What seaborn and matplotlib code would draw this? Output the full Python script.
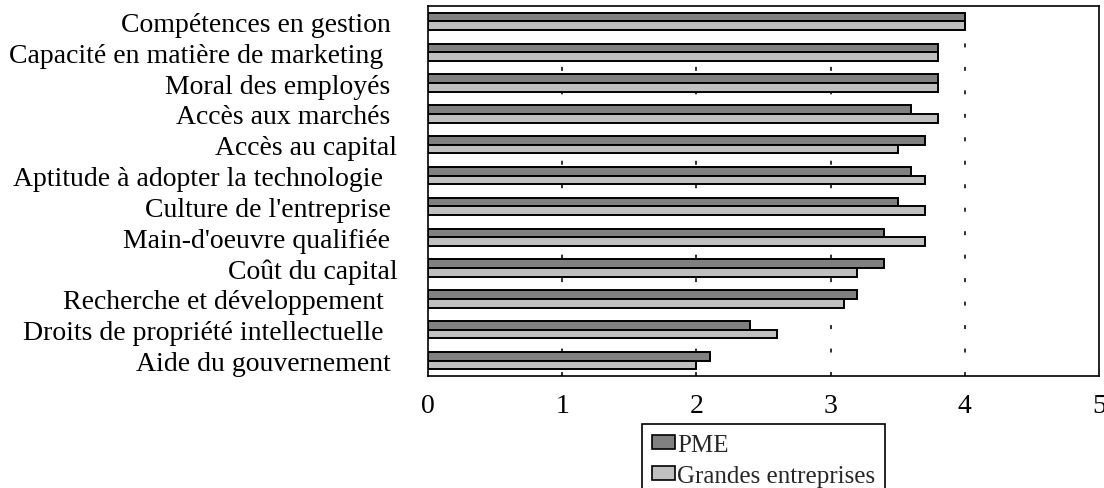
import matplotlib
matplotlib.use("Agg")
import matplotlib.pyplot as plt
import seaborn as sns
import pandas as pd
from matplotlib.patches import Patch

# Factors (top to bottom) and mean ratings for each firm size
factors = [
    "Compétences en gestion ",
    "Capacité en matière de marketing  ",
    "Moral des employés ",
    "Accès aux marchés ",
    "Accès au capital",
    "Aptitude à adopter la technologie  ",
    "Culture de l'entreprise ",
    "Main-d'oeuvre qualifiée ",
    "Coût du capital",
    "Recherche et développement  ",
    "Droits de propriété intellectuelle  ",
    "Aide du gouvernement ",
]
pme = [4.0, 3.8, 3.8, 3.6, 3.7, 3.6, 3.5, 3.4, 3.4, 3.2, 2.4, 2.1]
grandes = [4.0, 3.8, 3.8, 3.8, 3.5, 3.7, 3.7, 3.7, 3.2, 3.1, 2.6, 2.0]
series_names = ["PME", "Grandes entreprises"]
series_colors = ["#808080", "#C0C0C0"]
x_ticks = [0, 1, 2, 3, 4, 5]

df = pd.DataFrame({
    "facteur": factors * 2,
    "note": pme + grandes,
    "groupe": [series_names[0]] * len(factors) + [series_names[1]] * len(factors),
})

sns.set_theme(style="white")
plt.rcParams["font.family"] = ["Liberation Serif", "DejaVu Serif"]

fig = plt.figure(figsize=(11.04, 4.89), dpi=100)
ax = fig.add_axes([428 / 1104, 1 - 377 / 489, (1099 - 428) / 1104, (377 - 7) / 489])

sns.barplot(
    data=df, y="facteur", x="note", hue="groupe", order=factors,
    hue_order=series_names, palette=series_colors, orient="h",
    width=0.56, edgecolor="black", linewidth=1.4, saturation=1,
    legend=False, ax=ax, zorder=3,
)

ax.set_xlim(0, 5)
ax.set_ylim(len(factors) - 0.5, -0.5)
ax.set_xticks(x_ticks)
ax.set_xticklabels([str(t) for t in x_ticks])
ax.set_xlabel("")
ax.set_ylabel("")
ax.tick_params(axis="both", length=0, labelsize=20, colors="black")
ax.tick_params(axis="y", pad=22)
ax.tick_params(axis="x", pad=12)

for spine in ax.spines.values():
    spine.set_visible(True)
    spine.set_color("black")
    spine.set_linewidth(1.2)

for v in x_ticks[1:-1]:
    ax.axvline(v, color="#202020", linewidth=1.3, linestyle=(0, (2.2, 10.8)), zorder=1)

handles = [Patch(facecolor=c, edgecolor="black", linewidth=1.2) for c in series_colors]
leg = fig.legend(
    handles, series_names, loc="upper left",
    bbox_to_anchor=(642 / 1104, 1 - 425 / 489), bbox_transform=fig.transFigure,
    frameon=True, fancybox=False, edgecolor="black", framealpha=1,
    fontsize=18, handlelength=0.9, handleheight=0.5, handletextpad=0.1,
    borderpad=0.4, labelspacing=0.35, borderaxespad=0,
)
leg.get_frame().set_linewidth(1.2)

fig.savefig("out.png", dpi=100)
